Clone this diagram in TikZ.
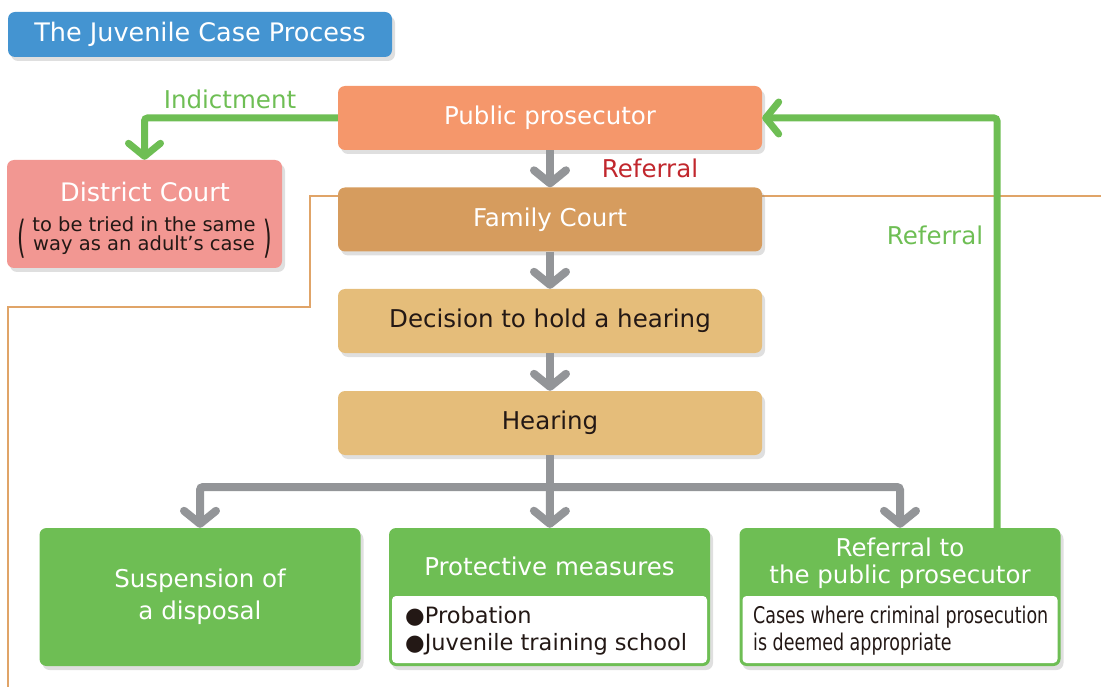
\documentclass[tikz,border=0pt]{standalone}
\usepackage{fontspec}
\setmainfont{DejaVu Sans}
\newfontfamily\narrowfont[FakeStretch=0.76]{DejaVu Sans}
\newfontfamily\parenfont[FakeStretch=0.5]{DejaVu Sans}
\usetikzlibrary{arrows.meta,shadows}
\definecolor{titleblue}{HTML}{4494D1}
\definecolor{prosorange}{HTML}{F5976B}
\definecolor{courtbrown}{HTML}{D69C5E}
\definecolor{hearsand}{HTML}{E5BD7A}
\definecolor{districtpink}{HTML}{F29792}
\definecolor{leafgreen}{HTML}{6EBE54}
\definecolor{arrowgray}{HTML}{939598}
\definecolor{referralred}{HTML}{C1272D}
\definecolor{frameorange}{HTML}{E0A468}
\definecolor{inkdark}{HTML}{231815}
\begin{document}
\begin{tikzpicture}[x=1pt, y=-1pt]
	\tikzstyle{box}=[rectangle, rounded corners=7pt, inner sep=0pt, drop shadow={shadow xshift=3pt, shadow yshift=-4pt, opacity=0.25}]
	\tikzstyle{stage}=[box, minimum width=424pt, minimum height=64pt, font=\fontsize{24.5}{28}\selectfont]
	\tikzstyle{outcome}=[box, fill=leafgreen, minimum width=321pt, minimum height=138pt]
	\tikzstyle{body}=[rectangle, rounded corners=4pt, fill=white, minimum width=315pt, minimum height=67pt]
	\tikzstyle{flow}=[draw=arrowgray, line width=8pt, rounded corners=3pt, -{Straight Barb[round, length=13pt, width=32pt]}]
	\tikzstyle{back}=[draw=leafgreen, line width=7pt, rounded corners=3pt, -{Straight Barb[round, length=13pt, width=32pt]}]
	\tikzstyle{frame}=[draw=frameorange, line width=2pt]
	\tikzstyle{label}=[font=\fontsize{24.5}{28}\selectfont, inner sep=0pt]
	\tikzstyle{paren}=[inner sep=0pt, text=inkdark, font=\parenfont\fontsize{44}{44}\selectfont]

	\useasboundingbox (0,0) rectangle (1101,687);
	\coordinate (frameright) at (1101,196);
	\coordinate (framebend) at (310,196);
	\coordinate (framestep) at (310,307);
	\coordinate (framefoot) at (8,687);
	\draw [frame] (frameright) -- (framebend) -- (framestep) -| (framefoot);

	\draw node at (200,34.5) (title) [box, fill=titleblue, text=white, minimum width=384pt, minimum height=45pt, font=\fontsize{25.5}{28}\selectfont] {The Juvenile Case Process};
	\draw node at (550,118) (prosecutor) [stage, fill=prosorange, text=white] {Public prosecutor};
	\draw node at (550,219.5) (family) [stage, fill=courtbrown, text=white] {Family Court};
	\draw node at (550,321) (decision) [stage, fill=hearsand, text=inkdark] {Decision to hold a hearing};
	\draw node at (550,423) (hearing) [stage, fill=hearsand, text=inkdark] {Hearing};
	\draw node at (144.5,214) (district) [box, fill=districtpink, minimum width=275pt, minimum height=108pt] {};
	\draw node at (145,192) (districttitle) [label, text=white, font=\fontsize{25.5}{28}\selectfont] {District Court};
	\draw node at (144,236) (districtnote) [inner sep=0pt, align=center, text=inkdark, font=\fontsize{19.5}{19}\selectfont] {to be tried in the same\\ way as an adult’s case};
	\draw node at (21.5,239) (noteopen) [paren] {(};
	\draw node at (267.5,239) (noteclose) [paren] {)};

	\draw node at (200,597) (suspend) [outcome, text=white, align=center, font=\fontsize{24.5}{32}\selectfont] {Suspension of\\ a disposal};
	\draw node at (549.5,597) (protect) [outcome] {};
	\draw node at (549.5,629.5) (protectbody) [body] {};
	\draw node at (549.5,566) (protecthead) [label, text=white] {Protective measures};
	\draw node at (405,630.5) (protectlist) [anchor=west, inner sep=0pt, align=left, text=inkdark, font=\fontsize{22.5}{27}\selectfont] {●Probation\\ ●Juvenile training school};
	\draw node at (900,597) (refer) [outcome] {};
	\draw node at (900,629.5) (referbody) [body] {};
	\draw node at (900,563.5) (referhead) [label, text=white, align=center, font=\fontsize{24.5}{27}\selectfont] {Referral to\\ the public prosecutor};
	\draw node at (753,630.5) (refernote) [anchor=west, inner sep=0pt, align=left, text=inkdark, font=\narrowfont\fontsize{23}{27}\selectfont] {Cases where criminal prosecution\\ is deemed appropriate};

	\coordinate (split) at (550,487);
	\draw [flow] (prosecutor) -- (family);
	\draw [flow] (family) -- (decision);
	\draw [flow] (decision) -- (hearing);
	\draw [flow, -] (hearing) -- (split);
	\draw [flow] (split) -| (suspend);
	\draw [flow] (split) -- (protect);
	\draw [flow] (split) -| (refer);
	\draw [back] (prosecutor.west) -| (district);
	\draw [back] ([xshift=97pt]refer.north) |- (prosecutor.east);

	\draw node at (230,99) (indictment) [label, text=leafgreen] {Indictment};
	\draw node at (650,168) (referralred) [label, text=referralred] {Referral};
	\draw node at (935,235) (referralgreen) [label, text=leafgreen] {Referral};
\end{tikzpicture}
\end{document}
